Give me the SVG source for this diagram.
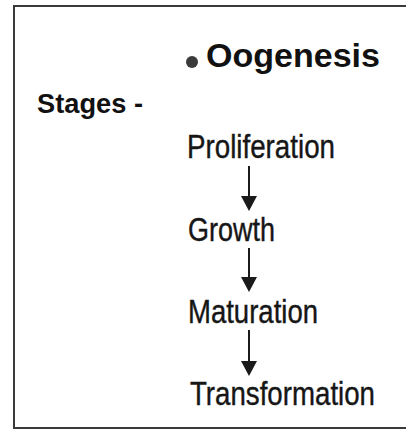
<svg xmlns="http://www.w3.org/2000/svg" width="406" height="432" viewBox="0 0 406 432">
<style>
.frame{fill:none;stroke:#3a3a3a;stroke-width:2}
.title{font-family:"Liberation Sans",Arial,sans-serif;font-weight:bold;fill:#111}
.stage{font-family:"Liberation Sans",Arial,sans-serif;font-size:33px;fill:#161616;stroke:#161616;stroke-width:0.4}
.conn{stroke:#1a1a1a;stroke-width:2;fill:none}
.head{fill:#1a1a1a}
</style>
<rect width="406" height="432" fill="#ffffff"/>
<path class="frame" d="M406,6 H14 V428 H406"/>
<g id="header">
<circle cx="192" cy="62" r="6" fill="#3a3a3a"/>
<text class="title" x="206" y="67" font-size="33" textLength="174" lengthAdjust="spacingAndGlyphs">Oogenesis</text>
</g>
<g id="stages-label">
<text class="title" x="37" y="113" font-size="27" textLength="106" lengthAdjust="spacingAndGlyphs">Stages -</text>
</g>
<g id="proliferation">
<text class="stage" x="187" y="158" textLength="148" lengthAdjust="spacingAndGlyphs">Proliferation</text>
</g>
<g id="growth">
<text class="stage" x="188" y="241" textLength="87" lengthAdjust="spacingAndGlyphs">Growth</text>
</g>
<g id="maturation">
<text class="stage" x="188" y="323" textLength="130" lengthAdjust="spacingAndGlyphs">Maturation</text>
</g>
<g id="transformation">
<text class="stage" x="190" y="405" textLength="185" lengthAdjust="spacingAndGlyphs">Transformation</text>
</g>
<g id="connectors">
<path d="M249,166 V198" class="conn"/>
<path d="M241,196 L257,196 L249,211 Z" class="head"/>
<path d="M249,248 V278" class="conn"/>
<path d="M241,277 L257,277 L249,292 Z" class="head"/>
<path d="M249,330 V362" class="conn"/>
<path d="M241,361 L257,361 L249,376 Z" class="head"/>
</g>
</svg>
